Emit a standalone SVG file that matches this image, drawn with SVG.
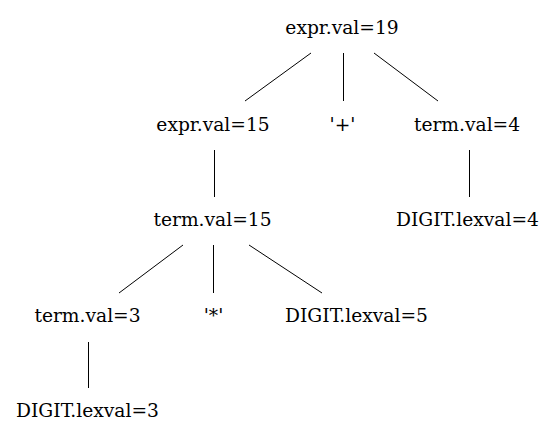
<svg xmlns="http://www.w3.org/2000/svg" width="557" height="443" viewBox="0 0 557 443">
<style>
text{font-family:"DejaVu Serif",serif;font-size:18.67px;fill:#000;text-anchor:middle}
line{stroke:#000;stroke-width:1}
</style>
<rect width="557" height="443" fill="#fff"/>
<g id="connectors">
<line x1="311" y1="53" x2="245" y2="101"/>
<line x1="343.5" y1="53" x2="343.5" y2="101"/>
<line x1="374" y1="53" x2="438" y2="101"/>
<line x1="214.5" y1="150" x2="214.5" y2="197"/>
<line x1="469.5" y1="150" x2="469.5" y2="197"/>
<line x1="183" y1="245" x2="119" y2="293"/>
<line x1="213.5" y1="245" x2="213.5" y2="293"/>
<line x1="249" y1="245" x2="322" y2="293"/>
<line x1="88.5" y1="342" x2="88.5" y2="388"/>
</g>
<g id="n_expr19"><text x="342" y="34">expr.val=19</text></g>
<g id="n_expr15"><text x="213" y="131">expr.val=15</text></g>
<g id="n_plus"><text x="342.5" y="131">'+'</text></g>
<g id="n_term4"><text x="467" y="131">term.val=4</text></g>
<g id="n_term15"><text x="212.5" y="225.5">term.val=15</text></g>
<g id="n_digit4"><text x="467.5" y="225.5">DIGIT.lexval=4</text></g>
<g id="n_term3"><text x="87.5" y="322">term.val=3</text></g>
<g id="n_star"><text x="213.5" y="322">'*'</text></g>
<g id="n_digit5"><text x="356.5" y="322">DIGIT.lexval=5</text></g>
<g id="n_digit3"><text x="87.5" y="417">DIGIT.lexval=3</text></g>
</svg>
